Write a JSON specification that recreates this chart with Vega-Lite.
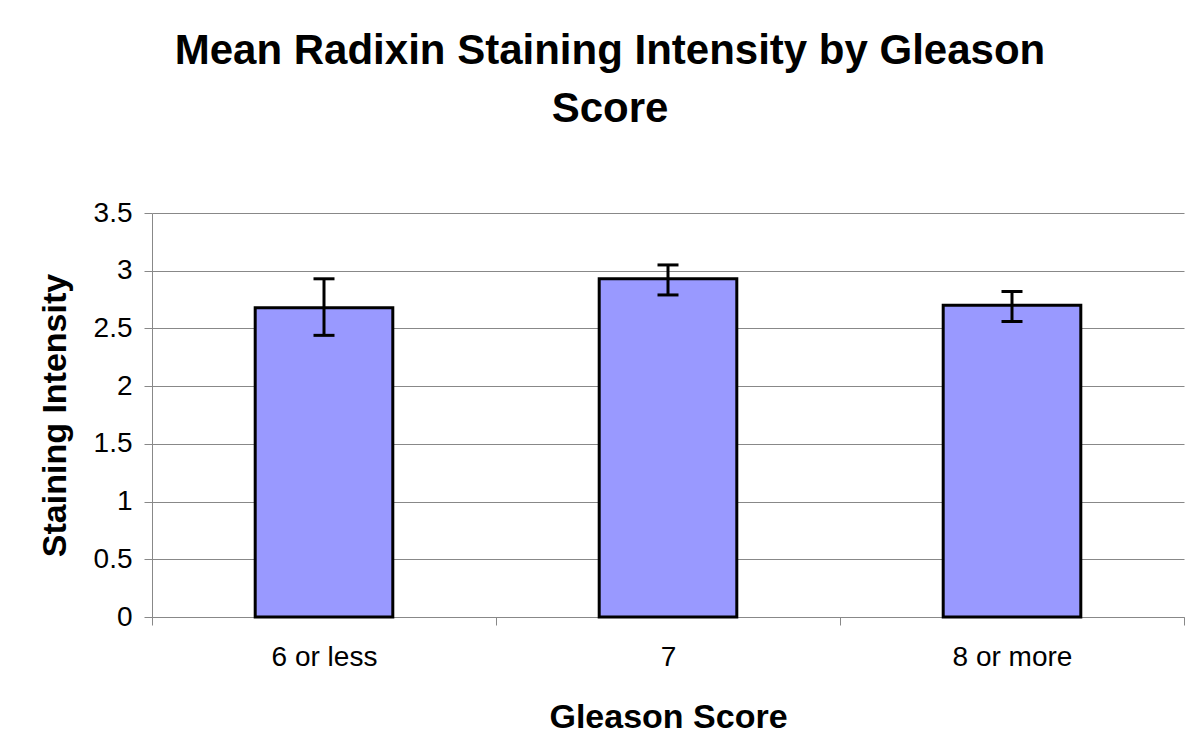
{
  "$schema": "https://vega.github.io/schema/vega-lite/v6.json",
  "width": 1032,
  "height": 404,
  "autosize": {"type": "none"},
  "padding": {"left": 152, "top": 213, "right": 16, "bottom": 137},
  "background": "white",
  "config": {"view": {"stroke": null}, "font": "Liberation Sans"},
  "title": {
    "text": ["Mean Radixin Staining Intensity by Gleason", "Score"],
    "font": "Liberation Sans",
    "fontSize": 42,
    "fontWeight": "bold",
    "color": "black",
    "anchor": "middle",
    "frame": "group",
    "dx": -58,
    "offset": 68,
    "lineHeight": 58
  },
  "data": {
    "values": [
      {"group": "6 or less", "mean": 2.68, "lo": 2.44, "hi": 2.93},
      {"group": "7", "mean": 2.93, "lo": 2.79, "hi": 3.05},
      {"group": "8 or more", "mean": 2.70, "lo": 2.56, "hi": 2.82}
    ]
  },
  "encoding": {
    "x": {
      "field": "group",
      "type": "nominal",
      "sort": null,
      "scale": {"paddingInner": 0, "paddingOuter": 0},
      "axis": {
        "title": "Gleason Score",
        "titleFont": "Liberation Sans",
        "titleFontSize": 34,
        "titleFontWeight": "bold",
        "titleColor": "black",
        "titleY": 100,
        "titleBaseline": "middle",
        "labelAngle": 0,
        "labelFont": "Liberation Sans",
        "labelFontSize": 28,
        "labelColor": "black",
        "labelPadding": 18,
        "tickBand": "extent",
        "ticks": true,
        "tickSize": 8,
        "tickColor": "#888888",
        "domainColor": "#888888",
        "grid": false
      }
    }
  },
  "layer": [
    {
      "mark": {"type": "bar", "fill": "#9999FF", "stroke": "black", "strokeWidth": 3, "width": {"band": 0.4}},
      "encoding": {
        "y": {
          "field": "mean",
          "type": "quantitative",
          "scale": {"domain": [0, 3.5], "nice": false},
          "axis": {
            "title": "Staining Intensity",
            "titleFont": "Liberation Sans",
            "titleFontSize": 34,
            "titleFontWeight": "bold",
            "titleColor": "black",
            "titleAngle": -90,
            "titleX": -97,
            "titleY": 202,
            "titleBaseline": "middle",
            "titleAlign": "center",
            "values": [0, 0.5, 1, 1.5, 2, 2.5, 3, 3.5],
            "format": "~g",
            "labelFont": "Liberation Sans",
            "labelFontSize": 28,
            "labelColor": "black",
            "labelPadding": 12,
            "tickSize": 8,
            "tickColor": "#888888",
            "domainColor": "#888888",
            "grid": true,
            "gridColor": "#888888",
            "gridWidth": 1
          }
        }
      }
    },
    {
      "mark": {"type": "rule", "stroke": "black", "strokeWidth": 3},
      "encoding": {
        "y": {"field": "lo", "type": "quantitative"},
        "y2": {"field": "hi"}
      }
    },
    {
      "mark": {"type": "tick", "color": "black", "thickness": 3, "size": 21, "opacity": 1},
      "encoding": {"y": {"field": "lo", "type": "quantitative"}}
    },
    {
      "mark": {"type": "tick", "color": "black", "thickness": 3, "size": 21, "opacity": 1},
      "encoding": {"y": {"field": "hi", "type": "quantitative"}}
    }
  ]
}
